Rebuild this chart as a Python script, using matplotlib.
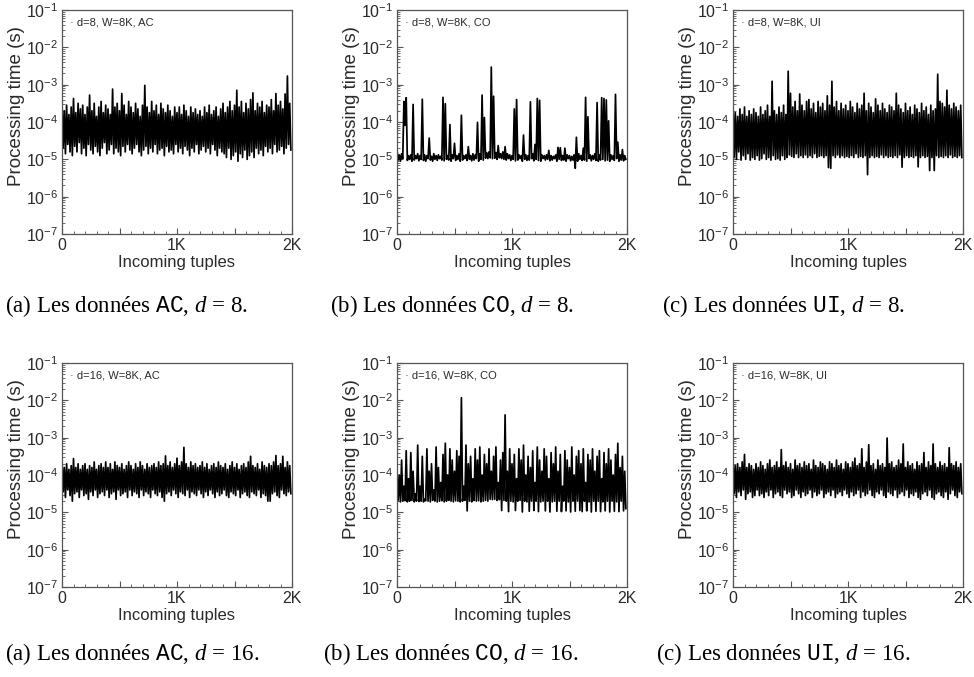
import numpy as np
import matplotlib
matplotlib.use("Agg")
import matplotlib.pyplot as plt
from matplotlib.ticker import FixedLocator, FixedFormatter, LogLocator, LogFormatterMathtext, NullFormatter

plt.rcParams['font.family'] = ['Liberation Sans', 'DejaVu Sans']
plt.rcParams['mathtext.fontset'] = 'custom'
plt.rcParams['mathtext.rm'] = 'Liberation Sans'
plt.rcParams['mathtext.it'] = 'Liberation Serif:italic'
plt.rcParams['mathtext.tt'] = 'Liberation Mono'

# ---- data: log10(processing time in s), sampled as alternating local peaks / troughs ----
ac8_peaks = [-3.45, -3.7, -3.55, -3.8, -3.6, -3.37, -3.75, -3.5, -3.65, -3.55,
             -3.8, -3.6, -3.28, -3.7, -3.5, -3.85, -3.6, -3.45, -3.75, -3.55,
             -3.65, -3.8, -3.12, -3.6, -3.5, -3.7, -3.24, -3.55, -3.8, -3.45,
             -3.6, -3.75, -3.5, -3.65, -3.85, -3.55, -3.02, -3.6, -3.75, -3.45,
             -3.7, -3.55, -3.8, -3.5, -3.65, -3.75, -3.55, -3.7, -3.85, -3.6,
             -3.75, -3.6, -3.8, -3.55, -3.7, -3.85, -3.6, -3.75, -3.65, -3.8,
             -3.7, -3.85, -3.6, -3.75, -3.55, -3.8, -3.7, -3.6, -3.85, -3.65,
             -3.5, -3.75, -3.6, -3.45, -3.7, -3.55, -3.15, -3.6, -3.45, -3.75,
             -3.5, -3.65, -3.4, -3.22, -3.7, -3.5, -3.6, -3.45, -3.75, -3.55,
             -3.6, -3.4, -3.7, -3.24, -3.55, -3.45, -3.65, -3.25, -2.77, -3.5]
ac8_troughs = [-4.7, -4.85, -4.6, -4.8, -4.9, -4.65, -4.8, -4.55, -4.85, -4.7,
               -4.9, -4.6, -4.75, -4.85, -4.65, -4.8, -4.9, -4.7, -4.55, -4.85,
               -4.75, -4.6, -4.85, -4.7, -4.8, -4.9, -4.65, -4.8, -4.6, -4.75,
               -4.85, -4.7, -4.6, -4.8, -4.9, -4.75, -4.65, -4.85, -4.7, -4.8,
               -4.6, -4.85, -4.75, -4.7, -4.9, -4.65, -4.8, -4.75, -4.85, -4.6,
               -4.8, -4.7, -4.85, -4.65, -4.75, -4.9, -4.7, -4.8, -4.6, -4.85,
               -4.75, -4.65, -4.8, -4.7, -4.85, -4.6, -4.75, -4.9, -4.7, -4.8,
               -4.85, -4.95, -4.7, -5.0, -4.9, -4.8, -5.05, -4.85, -4.95, -4.75,
               -5.0, -4.9, -4.8, -4.95, -4.7, -4.85, -4.75, -4.9, -4.65, -4.8,
               -4.7, -4.85, -4.6, -4.8, -4.75, -4.65, -4.85, -4.7, -4.6, -4.75]

co8_peaks = [-4.75, -4.88, -4.85, -3.45, -3.35, -4.9, -4.88, -3.53, -4.9, -4.85,
             -4.9, -3.39, -4.88, -4.9, -4.43, -4.92, -4.85, -4.9, -4.88, -4.92,
             -3.34, -3.51, -4.9, -4.07, -4.88, -4.57, -4.9, -4.85, -3.82, -4.9,
             -4.88, -4.66, -4.9, -4.85, -4.88, -4.01, -4.85, -3.28, -3.88, -4.82,
             -4.8, -2.53, -3.31, -4.82, -4.63, -4.85, -4.8, -4.66, -4.85, -4.88,
             -4.9, -3.65, -3.40, -4.88, -4.9, -4.35, -4.88, -4.9, -3.46, -4.85,
             -4.6, -3.37, -3.42, -4.88, -4.9, -4.88, -4.76, -4.9, -4.92, -4.88,
             -4.68, -4.69, -4.9, -4.7, -4.88, -4.9, -4.92, -4.88, -4.41, -4.85,
             -4.9, -4.7, -3.34, -3.86, -4.88, -4.9, -4.85, -3.48, -4.88, -3.35,
             -3.37, -3.41, -3.97, -4.88, -4.9, -3.26, -4.54, -4.88, -4.74, -4.9]
co8_troughs = [-5.02, -5.05, -4.98, -4.09, -5.03, -5.0, -5.05, -5.02, -4.98, -5.04,
               -5.0, -5.03, -5.05, -4.98, -5.02, -5.05, -5.0, -5.03, -4.98, -5.02,
               -5.04, -5.0, -5.02, -5.05, -4.98, -5.03, -5.0, -5.05, -5.02, -4.98,
               -5.03, -5.0, -5.04, -5.02, -4.98, -5.05, -5.0, -5.02, -4.97, -4.98,
               -4.96, -4.98, -4.97, -5.0, -4.96, -4.98, -5.0, -5.02, -4.98, -5.03,
               -5.0, -5.04, -5.02, -4.98, -5.05, -5.0, -5.03, -5.02, -4.98, -5.04,
               -5.0, -5.03, -5.05, -4.98, -5.02, -5.0, -5.04, -5.02, -4.98, -5.05,
               -5.0, -5.03, -5.02, -5.05, -4.98, -5.04, -5.02, -5.24, -5.05, -5.0,
               -5.03, -5.02, -5.05, -4.98, -5.04, -5.0, -5.03, -5.05, -5.02, -5.0,
               -5.04, -5.02, -5.05, -5.0, -5.03, -4.98, -5.05, -5.02, -5.04, -5.0]

ui8_peaks = [-3.5, -3.75, -3.85, -3.65, -3.8, -3.6, -3.85, -3.7, -3.8, -3.65,
             -3.75, -3.85, -3.6, -3.8, -3.7, -3.55, -3.85, -2.91, -3.7, -3.8,
             -3.6, -3.75, -3.55, -3.8, -2.64, -3.23, -3.6, -3.45, -3.7, -3.25,
             -3.55, -3.7, -3.45, -3.4, -3.65, -3.5, -3.75, -3.45, -3.6, -3.5,
             -3.7, -3.3, -3.55, -2.91, -3.6, -3.45, -3.7, -3.5, -3.65, -3.55,
             -3.7, -3.45, -3.6, -3.75, -3.5, -3.65, -3.55, -3.23, -3.7, -3.5,
             -3.6, -3.75, -3.38, -3.55, -3.7, -3.5, -3.65, -3.75, -3.55, -3.6,
             -3.7, -3.23, -3.55, -3.65, -3.75, -3.5, -3.7, -3.6, -3.8, -3.55,
             -3.65, -3.75, -3.5, -3.7, -3.6, -3.8, -3.55, -3.7, -3.65, -2.72,
             -3.45, -3.5, -3.6, -3.15, -3.55, -3.65, -3.5, -3.6, -3.7, -3.55]
ui8_troughs = [-4.95, -5.0, -4.8, -5.02, -4.9, -5.0, -4.85, -5.02, -4.95, -5.0,
               -4.9, -5.02, -4.98, -4.85, -5.0, -4.95, -5.02, -4.9, -5.0, -4.98,
               -5.02, -4.9, -5.0, -4.95, -4.88, -4.92, -4.95, -4.85, -4.95, -4.9,
               -4.95, -4.88, -4.95, -4.9, -4.95, -4.85, -4.95, -4.92, -4.9, -4.95,
               -4.9, -5.22, -5.24, -4.9, -4.95, -4.88, -4.95, -4.9, -4.95, -4.92,
               -4.95, -4.9, -4.95, -4.85, -4.95, -4.92, -4.95, -4.9, -5.41, -4.95,
               -4.9, -4.95, -4.92, -4.95, -4.88, -4.95, -4.9, -4.95, -4.92, -4.95,
               -4.9, -4.95, -4.88, -5.21, -4.95, -4.9, -4.95, -4.92, -4.95, -4.9,
               -5.2, -4.95, -4.9, -4.95, -4.92, -5.3, -4.95, -5.3, -4.9, -4.95,
               -4.92, -4.95, -4.9, -4.95, -4.88, -4.95, -4.92, -4.95, -4.9, -4.95]

ac16_peaks = [-3.6, -3.8, -3.7, -3.85, -3.75, -3.56, -3.8, -3.7, -3.85, -3.75,
              -3.7, -3.85, -3.75, -3.8, -3.65, -3.85, -3.75, -3.7, -3.8, -3.65,
              -3.8, -3.7, -3.85, -3.65, -3.75, -3.8, -3.7, -3.85, -3.75, -3.65,
              -3.75, -3.85, -3.7, -3.8, -3.65, -3.75, -3.85, -3.7, -3.8, -3.75,
              -3.7, -3.8, -3.65, -3.75, -3.7, -3.49, -3.75, -3.65, -3.8, -3.7,
              -3.55, -3.75, -3.65, -3.26, -3.7, -3.8, -3.65, -3.75, -3.7, -3.8,
              -3.75, -3.65, -3.8, -3.7, -3.85, -3.75, -3.7, -3.8, -3.65, -3.75,
              -3.8, -3.7, -3.85, -3.75, -3.65, -3.8, -3.7, -3.85, -3.75, -3.7,
              -3.8, -3.65, -3.5, -3.75, -3.8, -3.7, -3.85, -3.65, -3.75, -3.8,
              -3.7, -3.75, -3.65, -3.48, -3.75, -3.7, -3.5, -3.8, -3.65, -3.75]
ac16_troughs = [-4.45, -4.6, -4.4, -4.55, -4.7, -4.5, -4.45, -4.6, -4.4, -4.55,
                -4.5, -4.65, -4.45, -4.55, -4.4, -4.6, -4.5, -4.45, -4.55, -4.4,
                -4.6, -4.5, -4.45, -4.65, -4.4, -4.55, -4.5, -4.45, -4.6, -4.4,
                -4.55, -4.45, -4.5, -4.6, -4.4, -4.55, -4.45, -4.5, -4.6, -4.4,
                -4.5, -4.55, -4.45, -4.6, -4.7, -4.5, -4.45, -4.55, -4.4, -4.5,
                -4.6, -4.45, -4.5, -4.55, -4.4, -4.6, -4.45, -4.5, -4.55, -4.4,
                -4.5, -4.6, -4.45, -4.55, -4.4, -4.5, -4.6, -4.45, -4.55, -4.5,
                -4.4, -4.55, -4.6, -4.45, -4.5, -4.55, -4.4, -4.6, -4.5, -4.45,
                -4.55, -4.6, -4.45, -4.5, -4.55, -4.4, -4.6, -4.5, -4.55, -4.7,
                -4.7, -4.5, -4.45, -4.55, -4.6, -4.4, -4.5, -4.55, -4.45, -4.5]

co16_peaks = [-3.9, -4.0, -3.6, -4.3, -3.35, -4.1, -3.4, -3.9, -4.5, -3.2,
              -4.3, -3.5, -4.65, -3.3, -3.9, -3.7, -4.4, -3.25, -3.8, -4.2,
              -3.45, -3.15, -4.0, -3.3, -3.6, -3.9, -3.35, -3.5, -1.93, -4.3,
              -3.2, -3.7, -3.5, -4.1, -3.3, -3.6, -3.25, -4.0, -3.45, -3.7,
              -3.3, -3.9, -3.5, -3.25, -4.2, -3.6, -3.4, -2.39, -3.9, -3.3,
              -3.7, -3.45, -4.1, -3.3, -3.6, -3.2, -4.0, -3.5, -3.8, -3.35,
              -4.2, -3.25, -3.6, -3.9, -3.3, -3.5, -4.1, -3.4, -3.7, -3.25,
              -3.9, -3.45, -4.3, -3.35, -3.6, -3.8, -3.25, -4.0, -3.5, -3.35,
              -3.7, -3.3, -4.2, -3.45, -3.6, -3.3, -3.9, -3.5, -3.35, -4.1,
              -3.4, -3.7, -3.3, -3.6, -4.0, -3.45, -3.15, -3.8, -3.5, -3.9]
co16_troughs = [-4.68, -4.72, -4.7, -4.69, -4.72, -4.7, -4.68, -4.72, -4.7, -4.71,
                -4.7, -4.72, -4.69, -4.7, -4.72, -4.68, -4.7, -4.72, -4.7, -4.69,
                -4.72, -4.7, -4.68, -4.7, -4.72, -4.69, -4.7, -4.72, -4.7, -4.68,
                -4.96, -4.7, -4.72, -4.68, -4.7, -4.69, -4.72, -4.7, -4.68, -4.7,
                -4.65, -4.66, -4.65, -4.68, -4.66, -4.95, -4.68, -4.7, -4.98, -4.7,
                -4.72, -4.95, -4.7, -4.68, -4.99, -4.7, -4.72, -4.97, -4.7, -4.95,
                -4.7, -4.98, -4.72, -4.7, -4.96, -4.7, -4.99, -4.72, -4.7, -4.97,
                -4.7, -4.98, -4.7, -4.96, -4.72, -4.99, -4.7, -4.97, -4.7, -4.95,
                -4.98, -4.7, -4.96, -4.72, -4.99, -4.7, -4.97, -4.7, -4.98, -4.72,
                -4.96, -4.7, -4.99, -4.7, -4.97, -4.72, -4.98, -4.7, -4.96, -4.9]

ui16_peaks = [-3.55, -3.75, -3.7, -3.8, -3.65, -3.45, -3.8, -3.7, -3.75, -3.85,
              -3.7, -3.8, -3.65, -3.75, -3.85, -3.7, -3.6, -3.8, -3.75, -3.65,
              -3.8, -3.32, -3.75, -3.65, -3.8, -3.7, -3.85, -3.6, -3.75, -3.7,
              -3.8, -3.65, -3.75, -3.7, -3.85, -3.6, -3.75, -3.8, -3.65, -3.7,
              -3.75, -3.85, -3.65, -3.7, -3.8, -3.6, -3.75, -3.7, -3.85, -3.65,
              -3.7, -3.8, -3.65, -3.55, -3.75, -3.7, -3.3, -3.8, -3.65, -3.19,
              -3.75, -3.7, -3.85, -3.6, -3.75, -3.7, -3.8, -3.01, -3.7, -3.65,
              -3.8, -3.75, -3.6, -3.7, -3.17, -3.8, -3.65, -3.75, -3.7, -3.85,
              -3.65, -3.75, -3.7, -3.4, -3.8, -3.65, -3.75, -3.17, -3.7, -3.8,
              -3.65, -3.75, -3.7, -3.8, -3.27, -3.7, -3.75, -3.65, -3.8, -3.7]
ui16_troughs = [-4.5, -4.6, -4.45, -4.55, -4.4, -4.65, -4.5, -4.45, -4.6, -4.55,
                -4.4, -4.55, -4.5, -4.6, -4.45, -4.55, -4.4, -4.6, -4.5, -4.45,
                -4.55, -4.6, -4.4, -4.5, -4.45, -4.6, -4.55, -4.4, -4.5, -4.6,
                -4.45, -4.55, -4.5, -4.4, -4.6, -4.45, -4.55, -4.5, -4.4, -4.6,
                -4.5, -4.45, -4.55, -4.4, -4.6, -4.5, -4.45, -4.55, -4.4, -4.5,
                -4.6, -4.45, -4.55, -4.5, -4.4, -4.6, -4.45, -4.55, -4.5, -4.4,
                -4.55, -4.6, -4.45, -4.5, -4.4, -4.55, -4.6, -4.45, -4.5, -4.55,
                -4.4, -4.6, -4.5, -4.45, -4.55, -4.4, -4.6, -4.5, -4.55, -4.45,
                -4.6, -4.65, -4.5, -4.45, -4.55, -4.4, -4.6, -4.65, -4.5, -4.45,
                -4.55, -4.6, -4.45, -4.65, -4.5, -4.4, -4.55, -4.6, -4.45, -4.5]

n_tuples = 2000
x_tick_values = [0, 500, 1000, 1500, 2000]
x_tick_labels = ['0', '', '1K', '', '2K']
y_min, y_max = 1e-7, 1e-1

panel_labels = ['d=8, W=8K, AC', 'd=8, W=8K, CO', 'd=8, W=8K, UI',
                'd=16, W=8K, AC', 'd=16, W=8K, CO', 'd=16, W=8K, UI']
captions = [r'(a) Les données $\mathtt{AC}$, $d$ = 8.',
            r'(b) Les données $\mathtt{CO}$, $d$ = 8.',
            r'(c) Les données $\mathtt{UI}$, $d$ = 8.',
            r'(a) Les données $\mathtt{AC}$, $d$ = 16.',
            r'(b) Les données $\mathtt{CO}$, $d$ = 16.',
            r'(c) Les données $\mathtt{UI}$, $d$ = 16.']
series = [(ac8_peaks, ac8_troughs), (co8_peaks, co8_troughs), (ui8_peaks, ui8_troughs),
          (ac16_peaks, ac16_troughs), (co16_peaks, co16_troughs), (ui16_peaks, ui16_troughs)]

W, H = 974, 677
fig = plt.figure(figsize=(W / 100, H / 100), dpi=100)

# axes rectangles in pixels (left, top, width, height)
col_left = [62, 397, 733]
row_top = [10, 363]
ax_w, ax_h = 230, 224
cap_left = [[5, 330, 662], [5, 323, 656]]
cap_y = [306, 654]

spine_col = '#555555'
txt_col = '#2a2a2a'
for i, (pk, tr) in enumerate(series):
    r, c = divmod(i, 3)
    l, t = col_left[c], row_top[r]
    ax = fig.add_axes([l / W, 1 - (t + ax_h) / H, ax_w / W, ax_h / H])
    logv = np.empty(2 * len(pk))
    logv[0::2] = pk
    logv[1::2] = tr
    vals = 10.0 ** logv
    x = np.arange(len(vals)) * (n_tuples / len(vals))
    ax.plot(x, vals, color='black', lw=1.25)
    ax.set_yscale('log')
    ax.set_ylim(y_min, y_max)
    ax.set_xlim(0, n_tuples)
    ax.yaxis.set_major_locator(LogLocator(base=10, numticks=10))
    ax.yaxis.set_minor_locator(LogLocator(base=10, subs=np.arange(2, 10), numticks=20))
    ax.yaxis.set_major_formatter(LogFormatterMathtext())
    ax.yaxis.set_minor_formatter(NullFormatter())
    ax.xaxis.set_major_locator(FixedLocator(x_tick_values))
    ax.xaxis.set_major_formatter(FixedFormatter(x_tick_labels))
    ax.xaxis.set_minor_locator(FixedLocator(np.arange(0, n_tuples + 1, 100)))
    ax.tick_params(which='both', direction='in', top=False, right=False, color=spine_col,
                   labelsize=11.5, labelcolor=txt_col)
    ax.tick_params(which='major', length=4, width=0.8, pad=3)
    ax.tick_params(which='minor', length=2, width=0.6)
    for s in ax.spines.values():
        s.set_color(spine_col)
        s.set_linewidth(0.9)
    ax.set_ylabel('Processing time (s)', fontsize=13.5, color=txt_col, labelpad=0)
    ax.yaxis.set_label_coords(-0.16, 0.57)
    ax.set_xlabel('Incoming tuples', fontsize=12, color=txt_col, labelpad=1)
    ax.text(0.035, 0.965, '· ' + panel_labels[i], transform=ax.transAxes, fontsize=8,
            ha='left', va='top', color=txt_col)
    fig.text(cap_left[r][c] / W, 1 - cap_y[r] / H, captions[i], ha='left', va='center',
             fontsize=16.5, family='Liberation Serif', color='black')

fig.savefig('out.png', dpi=100)
